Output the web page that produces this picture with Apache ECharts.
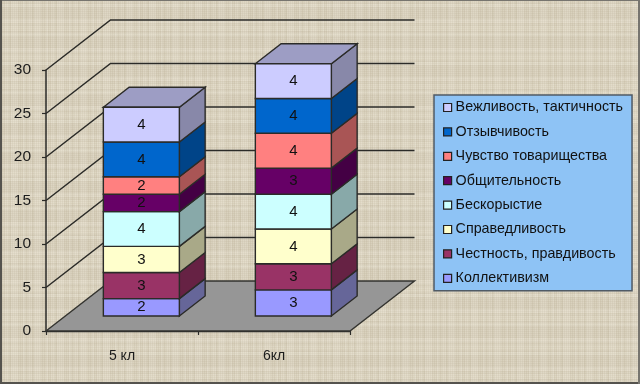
<!DOCTYPE html>
<html>
<head>
<meta charset="utf-8">
<script src="https://cdn.jsdelivr.net/npm/echarts@6/dist/echarts.min.js"></script>
<style>
html,body{margin:0;padding:0;width:640px;height:384px;overflow:hidden;}
#c{width:640px;height:384px;position:relative;
 background-color:#dfd7c3;
 background-image:
  repeating-linear-gradient(90deg,rgba(255,255,255,.07) 0 2px,rgba(120,105,75,.04) 2px 5px,rgba(255,255,255,.03) 5px 9px,rgba(120,105,75,.06) 9px 11px,rgba(255,255,255,.06) 11px 18px,rgba(120,105,75,.03) 18px 23px),
  repeating-linear-gradient(0deg,rgba(255,255,255,.07) 0 3px,rgba(120,105,75,.05) 3px 5px,rgba(255,255,255,.02) 5px 10px,rgba(120,105,75,.04) 10px 13px,rgba(255,255,255,.06) 13px 17px,rgba(120,105,75,.05) 17px 29px),
  repeating-linear-gradient(90deg,rgba(120,105,75,.05) 0 1px,rgba(255,255,255,.04) 1px 2px),
  repeating-linear-gradient(0deg,rgba(120,105,75,.05) 0 1px,rgba(255,255,255,.04) 1px 2px);
 box-shadow:inset 2px 0 0 #55534e,inset 0 1px 0 #77756f,inset -2px 0 0 #77756f,inset 0 -2px 0 #55534e;
}
#c canvas{filter:blur(0.45px);}
</style>
</head>
<body>
<div id="c"></div>
<script>
const categories = ['5 кл', '6кл'];
const seriesNames = ['Коллективизм','Честность, правдивость','Справедливость','Бескорыстие','Общительность','Чувство товарищества','Отзывчивость','Вежливость, тактичность'];
const seriesValues = [[2,3],[3,3],[3,4],[4,4],[2,3],[2,4],[4,4],[4,4]];
const seriesColors = ['#9999ff','#993366','#ffffcc','#ccffff','#660066','#ff8080','#0066cc','#ccccff'];
const sideColors   = ['#666699','#662244','#a9a988','#88a9a9','#440044','#a95555','#004488','#8888a9'];
const topColor = '#9d9dc4';
const yTicks = [0,5,10,15,20,25,30];

const depthX = 64.5, depthY = -50, lineCol = '#2b2b28';
const fontFam = '"Liberation Sans", Arial, sans-serif';
const chart = echarts.init(document.getElementById('c'), null, {renderer:'canvas', width:640, height:384});

function wallItem(params, api){
  const cs = params.coordSys, v = api.value(0), y = api.coord([0, v])[1];
  const x0 = cs.x, xB = x0 + depthX, yB = y + depthY, xR = cs.x + cs.width + depthX;
  const children = [];
  if (v === 0){
    children.push({type:'polygon', shape:{points:[[x0,y],[cs.x+cs.width,y],[xR,yB],[xB,yB]]},
      style:{fill:'#969696', stroke:'#33332f', lineWidth:1.4}});
  } else {
    children.push({type:'polyline', shape:{points:[[x0,y],[xB,yB],[xR,yB]]},
      style:{fill:'none', stroke:lineCol, lineWidth:1.5}});
  }
  return {type:'group', children};
}

function barItem(si){
  return function(params, api){
    const cat = api.value(0), base = api.value(1), val = api.value(2);
    const band = api.size([1,0])[0], w = band * 0.5;
    const p0 = api.coord([cat, base]), p1 = api.coord([cat, base + val]);
    const fx = 0.3 * depthX, fy = 0.3 * depthY, dx = 0.4 * depthX, dy = 0.4 * depthY;
    const l = p0[0] + fx - w/2, r = l + w, b = p0[1] + fy, t = p1[1] + fy;
    const st = {stroke:lineCol, lineWidth:1.4};
    const isTop = si === seriesNames.length - 1;
    const children = [
      {type:'polygon', shape:{points:[[r,b],[r+dx,b+dy],[r+dx,t+dy],[r,t]]}, style:Object.assign({fill:sideColors[si]},st)},
      {type:'rect', shape:{x:l,y:t,width:w,height:b-t}, style:Object.assign({fill:seriesColors[si]},st)},
      {type:'text', style:{text:String(val), x:(l+r)/2, y:(t+b)/2, align:'center', verticalAlign:'middle',
        fill:'#111', font:'15px "Liberation Sans", Arial, sans-serif'}}
    ];
    if (isTop) children.splice(1,0,{type:'polygon', shape:{points:[[l,t],[l+dx,t+dy],[r+dx,t+dy],[r,t]]}, style:Object.assign({fill:topColor},st)});
    return {type:'group', children};
  };
}

const running = categories.map(()=>0);
const barSeries = seriesNames.map((name,si)=>{
  const data = categories.map((c,ci)=>{
    const row = [ci, running[ci], seriesValues[si][ci]];
    running[ci] += seriesValues[si][ci];
    return row;
  });
  return {type:'custom', name, coordinateSystem:'cartesian2d', z:3+si, clip:false,
    itemStyle:{color:seriesColors[si]}, encode:{x:0,y:[1,2]}, renderItem:barItem(si), data};
});

chart.setOption({
  animation:false,
  tooltip:{show:false},
  textStyle:{fontFamily:fontFam},
  grid:{left:46, top:70, width:304, height:261, containLabel:false},
  legend:{
    left:434, top:95, orient:'vertical', selectedMode:false,
    data:seriesNames.slice().reverse(),
    icon:'rect', itemWidth:8, itemHeight:8, itemGap:9.4,
    padding:[5,9,5,9],
    backgroundColor:'#8ec3f5', borderColor:'#505b66', borderWidth:1.5,
    itemStyle:{borderColor:'#222', borderWidth:1.2},
    textStyle:{fontSize:14.3, color:'#111', padding:[0,0,0,-1], lineHeight:15, fontFamily:fontFam}
  },
  xAxis:{type:'category', data:categories, boundaryGap:true,
    axisLine:{show:true,lineStyle:{color:lineCol,width:1.4}},
    axisTick:{show:true,length:4,alignWithLabel:false,lineStyle:{color:lineCol,width:1.2}},
    axisLabel:{margin:18,fontSize:14,color:'#1c1c1c'},
    splitLine:{show:false}},
  yAxis:{type:'value', min:0, max:30, interval:5,
    axisLine:{show:true,lineStyle:{color:lineCol,width:1.5}},
    axisTick:{show:true,length:4,lineStyle:{color:lineCol,width:1.2}},
    axisLabel:{margin:15,fontSize:15.5,color:'#1c1c1c'},
    splitLine:{show:false}},
  series:[{type:'custom', name:'_walls', coordinateSystem:'cartesian2d', z:1, clip:false, silent:true,
      encode:{y:0}, renderItem:wallItem, data:yTicks.map(v=>[v])}].concat(barSeries)
});
</script>
</body>
</html>
